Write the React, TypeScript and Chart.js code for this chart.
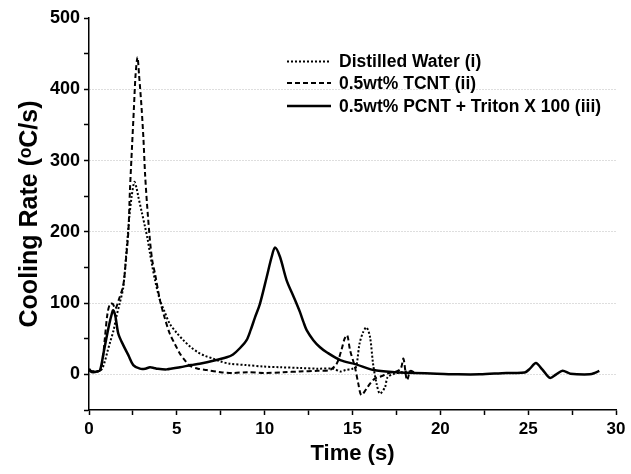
import React, { useEffect, useRef } from "react";
import { Chart, registerables } from "chart.js";

Chart.register(...registerables);

// Distilled Water (i)
const waterTime = [0, 0.3, 0.6, 0.75, 0.9, 1.05, 1.2, 1.4, 1.57, 1.75, 1.95, 2.14, 2.3, 2.43, 2.58, 2.7, 2.81, 3.0, 3.19, 3.35, 3.47, 3.6, 3.76, 4.04, 4.3, 4.6, 5.0, 5.37, 5.8, 6.2, 6.6, 7.07, 7.5, 8.0, 8.97, 9.9, 10.87, 12.0, 13.0, 13.9, 14.3, 14.6, 15.0, 15.2, 15.4, 15.6, 15.8, 16.0, 16.17, 16.37, 16.56, 16.85, 17.0, 17.4, 17.8, 18.2, 18.5];
const waterRate = [6, 4, 5, 8, 18, 32, 45, 62, 82, 100, 122, 175, 222, 250, 270, 262, 249, 228, 207, 188, 170, 152, 132, 104, 88, 71, 58, 48, 38, 31, 26, 22, 18, 15, 13, 11, 10, 9, 8, 8, 4, 6, 8, 10, 43, 59, 66, 52, 15, -13, -27, -18, -4, 1, 3, 4, 3];

// 0.5wt% TCNT (ii)
const tcntTime = [0, 0.3, 0.6, 0.75, 0.9, 1.05, 1.2, 1.35, 1.5, 1.7, 1.95, 2.1, 2.24, 2.33, 2.45, 2.55, 2.65, 2.76, 2.85, 2.99, 3.1, 3.19, 3.3, 3.47, 3.6, 3.76, 4.04, 4.3, 4.6, 4.9, 5.18, 5.45, 5.75, 6.2, 6.7, 7.5, 8.2, 9.0, 10.0, 11.06, 12.0, 13.0, 13.7, 14.1, 14.38, 14.55, 14.7, 14.86, 15.14, 15.33, 15.5, 15.8, 16.0, 16.27, 16.6, 16.9, 17.2, 17.5, 17.75, 17.9, 18.1, 18.3, 18.5];
const tcntRate = [6, 4, 5, 15, 50, 85, 99, 99, 92, 105, 125, 160, 200, 258, 320, 370, 420, 445, 420, 375, 330, 282, 240, 188, 160, 141, 104, 80, 57, 42, 29, 20, 12, 8, 6, 3, 2, 3, 2, 3, 4, 5, 6, 15, 35, 50, 55, 34, 10, -13, -29, -20, -13, -6, -3, 0, 3, 4, 8, 22, -8, 5, 3];

// 0.5wt% PCNT + Triton X 100 (iii)
const pcntTime = [0, 0.1, 0.25, 0.45, 0.63, 0.82, 1.0, 1.15, 1.3, 1.38, 1.5, 1.67, 1.95, 2.24, 2.52, 2.9, 3.2, 3.47, 3.7, 3.85, 4.42, 5.18, 5.8, 6.3, 7.07, 7.84, 8.2, 8.6, 8.97, 9.2, 9.45, 9.73, 10.11, 10.4, 10.59, 10.87, 11.25, 11.63, 12.0, 12.2, 12.39, 12.77, 13.15, 13.53, 14.3, 15.2, 16.2, 17.5, 18.5, 19.8, 21.0, 22.25, 23.77, 24.8, 25.1, 25.44, 25.8, 26.24, 26.6, 26.96, 27.4, 28.5, 28.8, 29.05];
const pcntRate = [8, 4, 3, 4, 6, 29, 52, 70, 85, 90, 82, 57, 41, 27, 13, 8, 8, 10, 9, 8, 7, 10, 13, 15, 19, 24, 28, 37, 48, 62, 80, 99, 136, 165, 178, 165, 132, 110, 88, 74, 62, 48, 38, 31, 20, 14, 6, 3, 2, 1, 0, 0, 2, 2.5, 8, 16, 7, -5, 0, 5, 1, 0, 2, 5];

const seriesLabels = ["Distilled Water (i)", "0.5wt% TCNT (ii)", "0.5wt% PCNT + Triton X 100 (iii)"];

const xLabeledTicks = [0, 5, 10, 15, 20, 25, 30];
const yLabeledTicks = [0, 100, 200, 300, 400, 500];
const yGridValues = [0, 100, 200, 300, 400];

const FONT = '"Liberation Sans", Arial, sans-serif';

export default function App() {
  const ref = useRef<HTMLCanvasElement>(null);

  useEffect(() => {
    const canvas = ref.current;
    if (!canvas) return;
    const pts = (t: number[], v: number[]) => t.map((x, i) => ({ x, y: v[i] }));

    const legendPlugin = {
      id: "insideLegend",
      afterDraw(chart: any) {
        const c = chart.ctx;
        const area = chart.chartArea;
        const x0 = area.left + 198;
        const x1 = area.left + 242;
        const tx = area.left + 250;
        const rows = [area.top + 43.5, area.top + 65, area.top + 88];
        c.save();
        chart.data.datasets.forEach((ds: any, i: number) => {
          const y = rows[i];
          c.beginPath();
          c.setLineDash(ds.borderDash || []);
          c.lineWidth = ds.borderWidth;
          c.strokeStyle = "#000";
          c.moveTo(x0, y);
          c.lineTo(x1, y);
          c.stroke();
          c.setLineDash([]);
          c.font = `bold 17.5px ${FONT}`;
          c.fillStyle = "#000";
          c.textAlign = "left";
          c.textBaseline = "middle";
          c.fillText(ds.label, tx, y + 1);
        });
        c.restore();
      },
    };

    const chart = new Chart(canvas, {
      type: "line",
      data: {
        datasets: [
          {
            label: seriesLabels[0],
            data: pts(waterTime, waterRate),
            borderColor: "#000",
            borderWidth: 2,
            borderDash: [2, 2],
            pointRadius: 0,
            tension: 0.3,
            fill: false,
          },
          {
            label: seriesLabels[1],
            data: pts(tcntTime, tcntRate),
            borderColor: "#000",
            borderWidth: 2,
            borderDash: [5, 3],
            pointRadius: 0,
            tension: 0.3,
            fill: false,
          },
          {
            label: seriesLabels[2],
            data: pts(pcntTime, pcntRate),
            borderColor: "#000",
            borderWidth: 2.5,
            borderDash: [],
            pointRadius: 0,
            tension: 0.3,
            fill: false,
          },
        ],
      },
      options: {
        responsive: false,
        animation: false,
        events: [],
        layout: { padding: { left: 0, top: 18, right: 15, bottom: 0 } },
        plugins: {
          legend: { display: false },
          tooltip: { enabled: false },
          title: { display: false },
        },
        scales: {
          x: {
            type: "linear",
            min: 0,
            max: 30,
            afterFit: (s: any) => {
              s.height = 64;
            },
            afterBuildTicks: (s: any) => {
              const t = [];
              for (let v = 0; v <= 30; v += 2.5) t.push({ value: v });
              s.ticks = t;
            },
            ticks: {
              autoSkip: false,
              maxRotation: 0,
              color: "#000",
              padding: 4,
              font: { family: FONT, size: 17, weight: "bold" },
              callback: (v: any) => (xLabeledTicks.includes(Number(v)) ? String(v) : ""),
            },
            grid: {
              drawOnChartArea: false,
              drawTicks: true,
              tickLength: 5,
              tickColor: "#000",
              tickWidth: 1.5,
            },
            border: { color: "#000", width: 1.5 },
            title: {
              display: true,
              text: "Time (s)",
              color: "#000",
              font: { family: FONT, size: 22, weight: "bold" },
              padding: { top: 0, bottom: 7 },
            },
          },
          y: {
            type: "linear",
            min: -50,
            max: 500,
            afterFit: (s: any) => {
              s.width = 89;
            },
            afterBuildTicks: (s: any) => {
              const t = [];
              for (let v = -50; v <= 500; v += 50) t.push({ value: v });
              s.ticks = t;
            },
            ticks: {
              autoSkip: false,
              color: "#000",
              padding: 4,
              font: { family: FONT, size: 18, weight: "bold" },
              callback: (v: any) => (yLabeledTicks.includes(Number(v)) ? String(v) : ""),
            },
            grid: {
              drawOnChartArea: true,
              drawTicks: true,
              tickLength: 5,
              tickColor: "#000",
              tickWidth: 1.5,
              lineWidth: 1,
              color: (ctx: any) =>
                ctx.tick && yGridValues.includes(ctx.tick.value) ? "#bdbdbd" : "rgba(0,0,0,0)",
              tickBorderDash: [],
            },
            border: { color: "#000", width: 1.5, dash: [1, 2] },
            title: {
              display: true,
              text: "Cooling Rate (\u1D52C/s)",
              color: "#000",
              font: { family: FONT, size: 25, weight: "bold" },
              padding: { top: 15, bottom: 0 },
            },
          },
        },
      },
      plugins: [legendPlugin],
    } as any);

    return () => chart.destroy();
  }, []);

  return (
    <div style={{ position: "fixed", left: 0, top: 0, width: 631, height: 474, background: "#fff" }}>
      <canvas ref={ref} width={631} height={474} style={{ display: "block" }} />
    </div>
  );
}
